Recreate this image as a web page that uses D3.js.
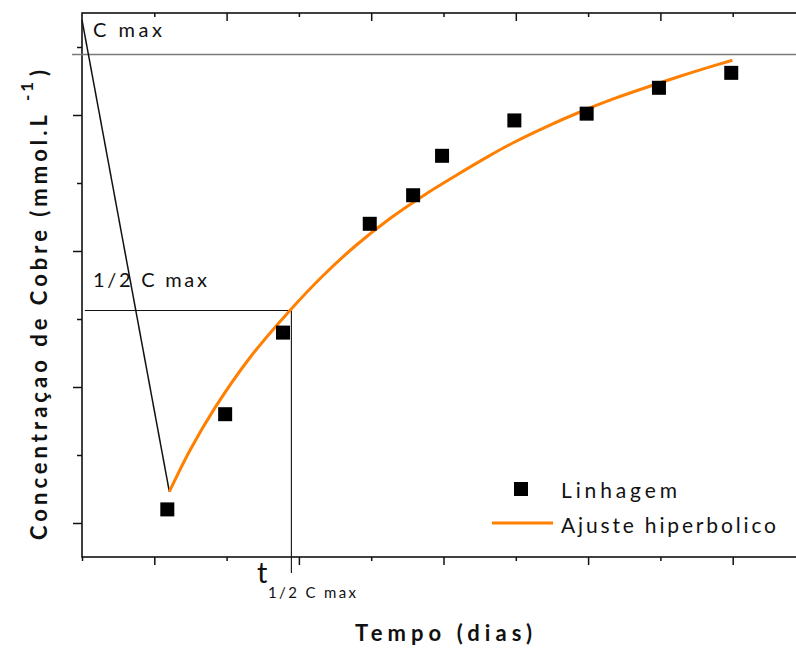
<!DOCTYPE html>
<html>
<head>
<meta charset="utf-8">
<script src="https://cdn.jsdelivr.net/npm/d3@7"></script>
<style>
  html, body { margin: 0; padding: 0; background: #fff; }
  svg { display: block; }
  text { font-family: "Lato", "Open Sans", sans-serif; fill: #111; }
</style>
</head>
<body>
<svg id="chart" width="796" height="648"></svg>
<script>
// Measured copper concentration (Linhagem)
const days = [5.45, 7.45, 9.45, 12.45, 13.95, 14.95, 17.45, 19.95, 22.45, 24.95];
const copper = [1.10, 1.80, 2.40, 3.20, 3.41, 3.70, 3.96, 4.01, 4.20, 4.31];

// Hyperbolic fit curve (Ajuste hiperbolico)
const fitDays = [5.52, 6.23, 7.10, 8.31, 9.69, 10.84, 12.00, 13.15, 14.30, 15.46, 16.61, 17.41, 18.57, 19.72, 20.87, 22.03, 23.18, 24.33, 24.99];
const fitCopper = [1.230, 1.533, 1.848, 2.217, 2.563, 2.820, 3.046, 3.239, 3.407, 3.559, 3.703, 3.796, 3.915, 4.022, 4.118, 4.204, 4.285, 4.361, 4.403];

// Reference levels
const cMax = 4.445;
const halfCMax = 2.563;
const tHalf = 9.74;
const dropStart = [2.5, 4.70];

// Tick positions (axes carry no numeric labels)
const xMajor = [5, 10, 15, 20, 25];
const xMinor = [2.5, 7.5, 12.5, 17.5, 22.5];
const yMajor = [1, 2, 3, 4];
const yMinor = [1.5, 2.5, 3.5, 4.5];

const svg = d3.select("#chart");
const x = d3.scaleLinear().domain([2.5, 27.5]).range([82, 805]);
const y = d3.scaleLinear().domain([0.75, 4.75]).range([557, 13]);

const axisStyle = g => {
  g.select(".domain").remove();
  g.selectAll(".tick line").attr("stroke", "#111").attr("stroke-width", 1.5);
  g.selectAll(".tick text").remove();
};

// bottom axis, ticks outward
svg.append("g").attr("transform", `translate(0,${y.range()[0]})`)
  .call(d3.axisBottom(x).tickValues(xMajor).tickSize(8).tickFormat("")).call(axisStyle);
svg.append("g").attr("transform", `translate(0,${y.range()[0]})`)
  .call(d3.axisBottom(x).tickValues(xMinor).tickSize(4).tickFormat("")).call(axisStyle);
// top axis, ticks inward
svg.append("g").attr("transform", `translate(0,${y.range()[1]})`)
  .call(d3.axisTop(x).tickValues(xMinor.slice(1)).tickSize(-8).tickFormat("")).call(axisStyle);
svg.append("g").attr("transform", `translate(0,${y.range()[1]})`)
  .call(d3.axisTop(x).tickValues(xMajor).tickSize(-4).tickFormat("")).call(axisStyle);
// left axis, ticks outward
svg.append("g").attr("transform", `translate(${x.range()[0]},0)`)
  .call(d3.axisLeft(y).tickValues(yMajor).tickSize(9).tickFormat("")).call(axisStyle);
svg.append("g").attr("transform", `translate(${x.range()[0]},0)`)
  .call(d3.axisLeft(y).tickValues(yMinor).tickSize(5).tickFormat("")).call(axisStyle);

// frame
svg.append("rect")
  .attr("x", x.range()[0]).attr("y", y.range()[1])
  .attr("width", x.range()[1] - x.range()[0]).attr("height", y.range()[0] - y.range()[1])
  .attr("fill", "none").attr("stroke", "#111").attr("stroke-width", 1.6);

// Cmax reference line
svg.append("line")
  .attr("x1", x(2.154)).attr("x2", x(27.5))
  .attr("y1", y(cMax)).attr("y2", y(cMax))
  .attr("stroke", "#7a7a7a").attr("stroke-width", 1.6);

// half-Cmax guides
svg.append("line")
  .attr("x1", x(2.6)).attr("x2", x(tHalf))
  .attr("y1", y(halfCMax)).attr("y2", y(halfCMax))
  .attr("stroke", "#111").attr("stroke-width", 1.1);
svg.append("line")
  .attr("x1", x(tHalf)).attr("x2", x(tHalf))
  .attr("y1", y(halfCMax)).attr("y2", y(0.632))
  .attr("stroke", "#111").attr("stroke-width", 1.1);

// initial drop
svg.append("line")
  .attr("x1", x(dropStart[0])).attr("y1", y(dropStart[1]))
  .attr("x2", x(fitDays[0])).attr("y2", y(fitCopper[0]))
  .attr("stroke", "#111").attr("stroke-width", 1.5);

// fit curve
const fitLine = d3.line().x(d => x(d[0])).y(d => y(d[1])).curve(d3.curveCatmullRom.alpha(0.5));
svg.append("path")
  .datum(fitDays.map((d, i) => [d, fitCopper[i]]))
  .attr("d", fitLine)
  .attr("fill", "none").attr("stroke", "#ff7f00").attr("stroke-width", 3);

// measured points
const sq = 14;
svg.append("g").selectAll("rect")
  .data(days.map((d, i) => [d, copper[i]]))
  .join("rect")
  .attr("x", d => x(d[0]) - sq / 2).attr("y", d => y(d[1]) - sq / 2)
  .attr("width", sq).attr("height", sq)
  .attr("fill", "#000");

// annotations
svg.append("text").attr("x", 93).attr("y", 37).attr("font-size", 20)
  .attr("textLength", 69).attr("lengthAdjust", "spacing").text("C max");
svg.append("text").attr("x", 93).attr("y", 287).attr("font-size", 20)
  .attr("textLength", 114).attr("lengthAdjust", "spacing").text("1/2 C max");
svg.append("text").attr("x", 257).attr("y", 583).attr("font-size", 29).text("t");
svg.append("text").attr("x", 268).attr("y", 598).attr("font-size", 15)
  .attr("textLength", 88).attr("lengthAdjust", "spacing").text("1/2 C max");

// axis titles
svg.append("text").attr("x", 355).attr("y", 641).attr("font-size", 22).attr("font-weight", "bold")
  .attr("textLength", 177).attr("lengthAdjust", "spacing").text("Tempo (dias)");

svg.append("text").attr("transform", "translate(47,540) rotate(-90)")
  .attr("font-size", 22).attr("font-weight", "bold")
  .attr("textLength", 425).attr("lengthAdjust", "spacing").text("Concentraçao de Cobre (mmol.L");
svg.append("text").attr("transform", "translate(33,101) rotate(-90)")
  .attr("font-size", 17).attr("font-weight", "bold")
  .attr("letter-spacing", 3).text("-1");
svg.append("text").attr("transform", "translate(47,76) rotate(-90)")
  .attr("font-size", 22).attr("font-weight", "bold").text(")");

// legend
const legend = svg.append("g");
legend.append("rect").attr("x", 514).attr("y", 482).attr("width", 14).attr("height", 14).attr("fill", "#000");
legend.append("text").attr("x", 561).attr("y", 498).attr("font-size", 21)
  .attr("textLength", 116).attr("lengthAdjust", "spacing").text("Linhagem");
legend.append("line").attr("x1", 492).attr("x2", 553).attr("y1", 523).attr("y2", 523)
  .attr("stroke", "#ff7f00").attr("stroke-width", 3);
legend.append("text").attr("x", 561).attr("y", 533).attr("font-size", 21)
  .attr("textLength", 215).attr("lengthAdjust", "spacing").text("Ajuste hiperbolico");
</script>
</body>
</html>
